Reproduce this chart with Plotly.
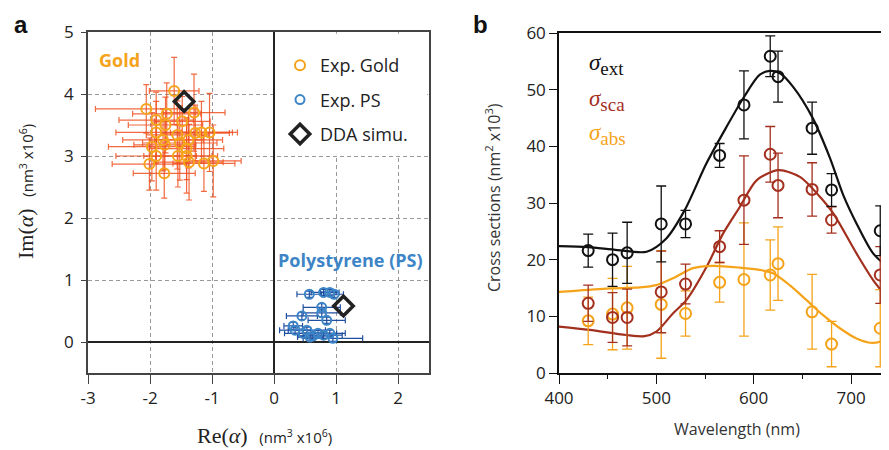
import plotly.graph_objects as go

# ---------------- Panel a data ----------------
gold_re = [-1.61, -2.06, -1.90, -1.73, -1.29, -1.48, -1.75, -1.90, -1.56, -1.27, -1.17, -1.04, -1.79,
           -1.76, -1.97, -1.52, -1.38, -1.41, -1.90, -1.55, -1.41, -2.01, -1.37, -1.13, -0.98, -1.77]
gold_im = [4.05, 3.76, 3.58, 3.68, 3.70, 3.56, 3.50, 3.38, 3.34, 3.37, 3.38, 3.38, 3.26,
           3.18, 3.15, 3.21, 3.26, 3.12, 3.00, 3.00, 3.00, 2.87, 2.90, 2.88, 2.92, 2.72]
gold_re_err = [0.40, 0.82, 0.60, 0.55, 0.50, 0.45, 0.60, 0.65, 0.50, 0.55, 0.50, 0.45, 0.65,
               0.50, 0.70, 0.60, 0.55, 0.60, 0.65, 0.55, 0.50, 0.60, 0.55, 0.50, 0.45, 0.50]
gold_im_err = [0.54, 0.39, 0.45, 0.50, 0.62, 0.40, 0.45, 0.50, 0.55, 0.45, 0.50, 0.63, 0.50,
               0.40, 0.55, 0.60, 0.45, 0.50, 0.55, 0.50, 0.60, 0.42, 0.61, 0.45, 0.58, 0.40]

ps_re = [0.57, 0.80, 0.90, 0.97, 0.77, 0.77, 0.45, 0.85, 0.31, 0.34, 0.47, 0.63, 0.71, 0.58, 0.80, 0.95, 0.90, 0.53]
ps_im = [0.77, 0.80, 0.80, 0.77, 0.56, 0.47, 0.42, 0.35, 0.26, 0.19, 0.14, 0.10, 0.14, 0.08, 0.11, 0.06, 0.14, 0.19]
ps_re_err = [0.20, 0.20, 0.15, 0.15, 0.30, 0.30, 0.25, 0.30, 0.15, 0.25, 0.30, 0.25, 0.30, 0.20, 0.30, 0.48, 0.25, 0.30]
ps_im_err = [0.05, 0.05, 0.05, 0.05, 0.06, 0.06, 0.06, 0.05, 0.06, 0.05, 0.05, 0.05, 0.05, 0.05, 0.05, 0.05, 0.05, 0.05]

dda_re = [-1.45, 1.12]
dda_im = [3.88, 0.58]

a_xticks = [-3, -2, -1, 0, 1, 2]
a_xticktext = ["-3", "-2", "-1", "0", "1", "2"]
a_yticks = [0, 1, 2, 3, 4, 5]

# ---------------- Panel b data ----------------
wl = [430, 455, 470, 505, 530, 565, 590, 617, 625, 660, 680, 730]
ext = [21.6, 20.0, 21.2, 26.3, 26.3, 38.4, 47.3, 55.9, 52.3, 43.2, 32.3, 25.1]
ext_err = [2.9, 4.7, 5.4, 6.7, 2.4, 2.1, 6.0, 3.6, 4.5, 4.6, 2.9, 4.4]
sca = [12.3, 9.8, 9.8, 14.3, 15.7, 22.3, 30.5, 38.6, 33.1, 32.4, 27.0, 17.3]
sca_err = [3.2, 4.4, 5.0, 7.2, 3.5, 2.8, 7.8, 4.9, 5.7, 4.7, 2.3, 5.0]
absn = [9.2, 10.4, 11.5, 12.1, 10.5, 16.0, 16.5, 17.3, 19.3, 10.8, 5.1, 7.9]
abs_err = [4.2, 6.3, 7.3, 9.5, 4.0, 3.5, 10.0, 6.2, 6.5, 6.6, 4.0, 6.8]

fit_ext_wl = [400, 430, 460, 490, 510, 529, 551.5, 572, 590, 606, 616.5, 627, 640.5, 660, 678, 692, 705.6, 722.7, 739]
fit_ext = [22.4, 22.2, 21.7, 21.4, 23.7, 28.7, 37.0, 43.4, 48.7, 52.6, 53.3, 52.9, 50.5, 45.2, 38.1, 31.4, 26.4, 21.1, 18.5]
fit_sca_wl = [400, 431.5, 469, 488, 500, 517, 531, 551.5, 568.5, 585.7, 603, 625.5, 647.5, 668, 681.6, 705.6, 722.7, 739]
fit_sca = [8.2, 7.6, 6.7, 6.5, 7.3, 10.5, 12.9, 18.7, 24.6, 29.3, 34.0, 35.8, 34.6, 31.1, 28.2, 21.1, 16.4, 12.9]
fit_abs_wl = [400, 448.7, 483, 500, 517, 537.7, 558, 585.7, 606, 619.9, 637, 654, 671.3, 688.5, 705.6, 722.7, 739]
fit_abs = [14.3, 14.9, 15.1, 15.5, 16.7, 18.5, 18.9, 18.6, 18.2, 17.6, 15.5, 12.9, 10.2, 7.9, 6.1, 5.3, 6.1]

b_xticks = [400, 500, 600, 700]
b_xminor = [450, 550, 650]
b_yticks = [0, 10, 20, 30, 40, 50, 60]

# ---------------- styles ----------------
SANS = "Open Sans"
SERIF = "Liberation Serif"
GOLD = "#f5a31a"
GOLD_ERR = "rgba(240,80,30,0.85)"
PS = "#3d85c6"
PS_ERR = "#1f4fa0"
BLK = "#111111"
RED = "#a3301f"
ORG = "#f5a31a"

fig = go.Figure()

# Panel a traces
fig.add_trace(go.Scatter(
    x=gold_re, y=gold_im, mode="markers", name="Exp. Gold", legendgroup="g1",
    marker=dict(symbol="circle-open", size=10, color=GOLD, line=dict(width=2, color=GOLD)),
    error_x=dict(type="data", array=gold_re_err, color=GOLD_ERR, thickness=1.2, width=3),
    error_y=dict(type="data", array=gold_im_err, color=GOLD_ERR, thickness=1.2, width=3),
    xaxis="x", yaxis="y"))
fig.add_trace(go.Scatter(
    x=ps_re, y=ps_im, mode="markers", name="Exp. PS", legendgroup="g2",
    marker=dict(symbol="circle-open", size=9, color=PS, line=dict(width=2, color=PS)),
    error_x=dict(type="data", array=ps_re_err, color=PS_ERR, thickness=1.2, width=3),
    error_y=dict(type="data", array=ps_im_err, color=PS_ERR, thickness=1.2, width=3),
    xaxis="x", yaxis="y"))
fig.add_trace(go.Scatter(
    x=dda_re, y=dda_im, mode="markers", name="DDA simu.", legendgroup="g3",
    marker=dict(symbol="diamond-open", size=15, color="#222", line=dict(width=3.5, color="#222")),
    xaxis="x", yaxis="y"))

# Panel b traces
for fx, fy, col in [(fit_ext_wl, fit_ext, BLK), (fit_sca_wl, fit_sca, RED), (fit_abs_wl, fit_abs, ORG)]:
    fig.add_trace(go.Scatter(x=fx, y=fy, mode="lines", showlegend=False,
                             line=dict(color=col, width=2.2, shape="spline", smoothing=0.8),
                             xaxis="x2", yaxis="y2"))
for yy, ee, col in [(absn, abs_err, ORG), (sca, sca_err, RED), (ext, ext_err, BLK)]:
    fig.add_trace(go.Scatter(x=wl, y=yy, mode="markers", showlegend=False,
                             marker=dict(symbol="circle-open", size=11, color=col, line=dict(width=2, color=col)),
                             error_y=dict(type="data", array=ee, color=col, thickness=1.3, width=5),
                             xaxis="x2", yaxis="y2"))

# page body has an 8px margin: the figure starts at page pixel (8, 8)
OFF = 8
W, H = 889 - OFF, 450 - OFF
def px_x(p):
    return (p - OFF) / W
def px_y(p):
    return 1 - (p - OFF) / H

tickfont = dict(family=SANS, size=17, color="#222")

fig.update_layout(
    template="none",
    width=W, height=H,
    margin=dict(l=0, r=0, t=0, b=0, autoexpand=False),
    paper_bgcolor="white", plot_bgcolor="white",
    showlegend=True,
    legend=dict(x=px_x(280), y=px_y(47), xanchor="left", yanchor="top",
                bgcolor="rgba(0,0,0,0)", borderwidth=0,
                font=dict(family=SANS, size=18, color="#222"),
                traceorder="grouped", tracegroupgap=8),
    xaxis=dict(domain=[px_x(88), px_x(429)], range=[-3, 2.5], tickvals=a_xticks, ticktext=a_xticktext,
               showgrid=True, gridcolor="#999", griddash="4px,3px", gridwidth=1,
               zeroline=True, zerolinecolor="#222", zerolinewidth=1.5,
               showline=True, mirror=True, linecolor="#444", linewidth=1.5,
               ticks="outside", ticklen=9, tickcolor="#444", tickfont=tickfont, anchor="y",
               automargin=False),
    yaxis=dict(domain=[px_y(373), px_y(32)], range=[-0.5, 5], tickvals=a_yticks,
               showgrid=True, gridcolor="#999", griddash="4px,3px", gridwidth=1,
               zeroline=True, zerolinecolor="#222", zerolinewidth=1.5,
               showline=True, mirror=True, linecolor="#444", linewidth=1.5,
               ticks="outside", ticklen=5, tickcolor="#444", tickfont=tickfont, anchor="x",
               ticklabelstandoff=4, automargin=False),
    xaxis2=dict(domain=[px_x(559), 1.0], range=[400, 739], tickvals=b_xticks,
                showgrid=False, zeroline=False,
                showline=True, mirror=True, linecolor="#111", linewidth=1.5,
                ticks="outside", ticklen=9, tickcolor="#111", tickfont=tickfont, anchor="y2",
                minor=dict(tickmode="array", tickvals=b_xminor, ticks="outside", ticklen=4,
                           tickcolor="#111", showgrid=False),
                automargin=False),
    yaxis2=dict(domain=[px_y(373), px_y(33)], range=[0, 60], tickvals=b_yticks,
                showgrid=False, zeroline=False,
                showline=True, mirror=False, linecolor="#111", linewidth=1.5,
                ticks="outside", ticklen=8, tickcolor="#111", tickfont=tickfont, anchor="x2",
                automargin=False),
)

# white legend box in panel a (covers grid in upper-right quadrant)
fig.add_shape(type="rect", xref="x", yref="y", x0=0.03, x1=2.47, y0=3.02, y1=4.97,
              fillcolor="white", line=dict(width=0), layer="above")

C = dict(xanchor="center", yanchor="middle", showarrow=False)
ann = []
ann.append(dict(text="<b>a</b>", x=px_x(21), y=px_y(25), xref="paper", yref="paper",
                font=dict(family="Liberation Sans", size=24, color="#111"), **C))
ann.append(dict(text="<b>b</b>", x=px_x(480), y=px_y(25), xref="paper", yref="paper",
                font=dict(family="Liberation Sans", size=24, color="#111"), **C))
ann.append(dict(text="<b>Gold</b>", x=-2.5, y=4.55, xref="x", yref="y",
                font=dict(family=SANS, size=18, color=GOLD), **C))
ann.append(dict(text="<b>Polystyrene (PS)</b>", x=1.23, y=1.32, xref="x", yref="y",
                font=dict(family=SANS, size=18, color=PS), **C))
# axis titles panel a
ann.append(dict(text='<span style="font-family:Liberation Serif;font-size:22px">Im(<i>α</i>)</span>'
                     '   (nm<sup>3</sup> x10<sup>6</sup>)',
                x=px_x(25), y=px_y(192), xref="paper", yref="paper", textangle=-90,
                font=dict(family=SANS, size=15, color="#222"), **C))
ann.append(dict(text='<span style="font-family:Liberation Serif;font-size:22px">Re(<i>α</i>)</span>'
                     '   (nm<sup>3</sup> x10<sup>6</sup>)',
                x=px_x(264), y=px_y(435), xref="paper", yref="paper",
                font=dict(family=SANS, size=15, color="#222"), **C))
# axis titles panel b
ann.append(dict(text='Cross sections (nm<sup>2</sup> x10<sup>3</sup>)',
                x=px_x(493), y=px_y(198), xref="paper", yref="paper", textangle=-90,
                font=dict(family=SANS, size=16, color="#333"), **C))
ann.append(dict(text='Wavelength (nm)', x=px_x(737), y=px_y(429), xref="paper", yref="paper",
                font=dict(family=SANS, size=16, color="#333"), **C))
# sigma labels
for lab, yy, col in [("ext", 65, BLK), ("sca", 100, RED), ("abs", 135, ORG)]:
    ann.append(dict(text='<i>σ</i><sub><span style="font-size:19px">%s</span></sub>' % lab,
                    x=px_x(587), y=px_y(yy), xref="paper", yref="paper",
                    xanchor="left", yanchor="middle", showarrow=False,
                    font=dict(family=SERIF, size=23, color=col)))
fig.update_layout(annotations=ann)

fig.write_html("out.html")
